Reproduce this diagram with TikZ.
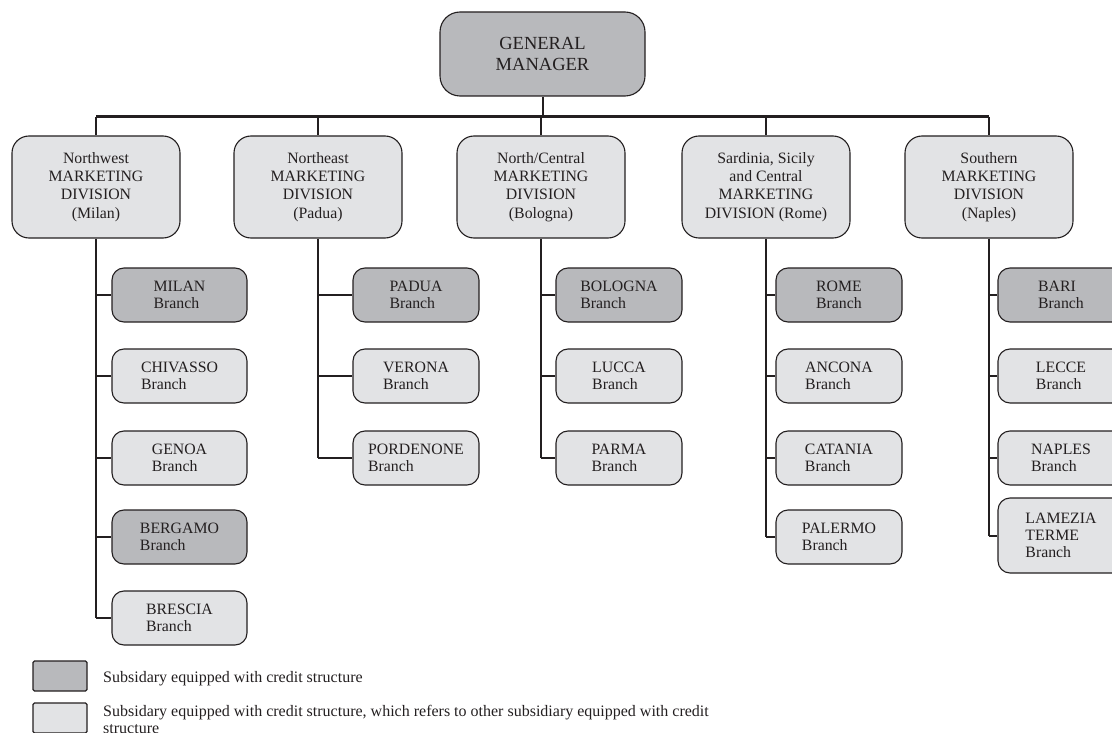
\documentclass[tikz,border=0pt]{standalone}
\usepackage{fontspec}
\setmainfont{Liberation Serif}
\definecolor{ink}{RGB}{35,31,32}
\definecolor{darkfill}{RGB}{184,185,188}
\definecolor{lightfill}{RGB}{226,227,229}
\begin{document}
\begin{tikzpicture}[x=1pt,y=-1pt,
  box/.style={draw=ink, line width=1.1pt, text=ink, inner sep=0pt},
  gm/.style={box, fill=darkfill, rounded corners=20pt, minimum width=205pt,
    minimum height=84pt, align=center, font=\fontsize{18.5}{20.7}\selectfont},
  division/.style={box, fill=lightfill, rounded corners=17pt, minimum width=168pt,
    minimum height=102pt, align=center, font=\fontsize{15.8}{18.3}\selectfont},
  branch/.style={box, rounded corners=12pt, minimum height=54pt, align=left,
    font=\fontsize{15.8}{17}\selectfont},
  credit/.style={branch, fill=darkfill},
  refer/.style={branch, fill=lightfill},
  wire/.style={draw=ink, line width=2pt},
  busline/.style={draw=ink, line width=3pt},
  keybox/.style={draw=ink, line width=1.1pt, minimum width=54pt, minimum height=30pt,
    inner sep=0pt, rounded corners=1.5pt},
  keytext/.style={text=ink, inner sep=0pt, align=left, font=\fontsize{16}{17}\selectfont}]
\clip (0,0) rectangle (1112,733);

% top of the hierarchy
\node[gm] (gm) at (542.5,54) {GENERAL\\MANAGER};
\coordinate (bus) at (0,117);

% marketing divisions
\node[division] (nw) at (96,187)  {Northwest\\MARKETING\\DIVISION\\(Milan)};
\node[division] (ne) at (318,187) {Northeast\\MARKETING\\DIVISION\\(Padua)};
\node[division] (nc) at (541,187) {North/Central\\MARKETING\\DIVISION\\(Bologna)};
\node[division] (sc) at (766,187) {Sardinia, Sicily\\and Central\\MARKETING\\DIVISION (Rome)};
\node[division] (so) at (989,187) {Southern\\MARKETING\\DIVISION\\(Naples)};

% branches: Northwest
\node[credit, minimum width=135pt] (milan)    at (179.5,295) {MILAN\\Branch};
\node[refer,  minimum width=135pt] (chivasso) at (179.5,376) {CHIVASSO\\Branch};
\node[refer,  minimum width=135pt] (genoa)    at (179.5,458) {GENOA\\Branch};
\node[credit, minimum width=135pt] (bergamo)  at (179.5,537) {BERGAMO\\Branch};
\node[refer,  minimum width=135pt] (brescia)  at (179.5,618) {BRESCIA\\Branch};

% branches: Northeast
\node[credit, minimum width=126pt] (padua)     at (416,295) {PADUA\\Branch};
\node[refer,  minimum width=126pt] (verona)    at (416,376) {VERONA\\Branch};
\node[refer,  minimum width=126pt] (pordenone) at (416,458) {PORDENONE\\Branch};

% branches: North/Central
\node[credit, minimum width=126pt] (bologna) at (619,295) {BOLOGNA\\Branch};
\node[refer,  minimum width=126pt] (lucca)   at (619,376) {LUCCA\\Branch};
\node[refer,  minimum width=126pt] (parma)   at (619,458) {PARMA\\Branch};

% branches: Sardinia, Sicily and Central
\node[credit, minimum width=126pt] (rome)    at (839,295) {ROME\\Branch};
\node[refer,  minimum width=126pt] (ancona)  at (839,376) {ANCONA\\Branch};
\node[refer,  minimum width=126pt] (catania) at (839,458) {CATANIA\\Branch};
\node[refer,  minimum width=126pt] (palermo) at (839,537) {PALERMO\\Branch};

% branches: Southern
\node[credit, minimum width=126pt] (bari)    at (1061,295) {BARI\\Branch};
\node[refer,  minimum width=126pt] (lecce)   at (1061,376) {LECCE\\Branch};
\node[refer,  minimum width=126pt] (naples)  at (1061,458) {NAPLES\\Branch};
\node[refer,  minimum width=126pt, minimum height=75pt] (lamezia) at (1061,535.5) {LAMEZIA\\TERME\\Branch};

% general manager to divisions
\draw[wire] (gm.south) -- (gm.south |- bus);
\draw[busline] (nw.north |- bus) -- (so.north |- bus);
\foreach \d in {nw,ne,nc,sc,so}
  \draw[wire] (\d.north |- bus) -- (\d.north);

% division stems and branch ties
\draw[wire] (nw.south) -- (nw.south |- brescia.west);
\foreach \b in {milan,chivasso,genoa,bergamo,brescia}
  \draw[wire] (nw.south |- \b.west) -- (\b.west);
\draw[wire] (ne.south) -- (ne.south |- pordenone.west);
\foreach \b in {padua,verona,pordenone}
  \draw[wire] (ne.south |- \b.west) -- (\b.west);
\draw[wire] (nc.south) -- (nc.south |- parma.west);
\foreach \b in {bologna,lucca,parma}
  \draw[wire] (nc.south |- \b.west) -- (\b.west);
\draw[wire] (sc.south) -- (sc.south |- palermo.west);
\foreach \b in {rome,ancona,catania,palermo}
  \draw[wire] (sc.south |- \b.west) -- (\b.west);
\draw[wire] (so.south) -- (so.south |- lamezia.west);
\foreach \b in {bari,lecce,naples,lamezia}
  \draw[wire] (so.south |- \b.west) -- (\b.west);

% key
\node[keybox, fill=darkfill] (key1) at (60,676) {};
\node[keytext, anchor=base west] (key1t) at (103,682) {Subsidary equipped with credit structure};
\node[keybox, fill=lightfill] (key2) at (60,718) {};
\node[keytext, anchor=north west] (key2t) at (103,705.5)
  {Subsidary equipped with credit structure, which refers to other subsidiary equipped with credit\\structure};
\end{tikzpicture}
\end{document}
